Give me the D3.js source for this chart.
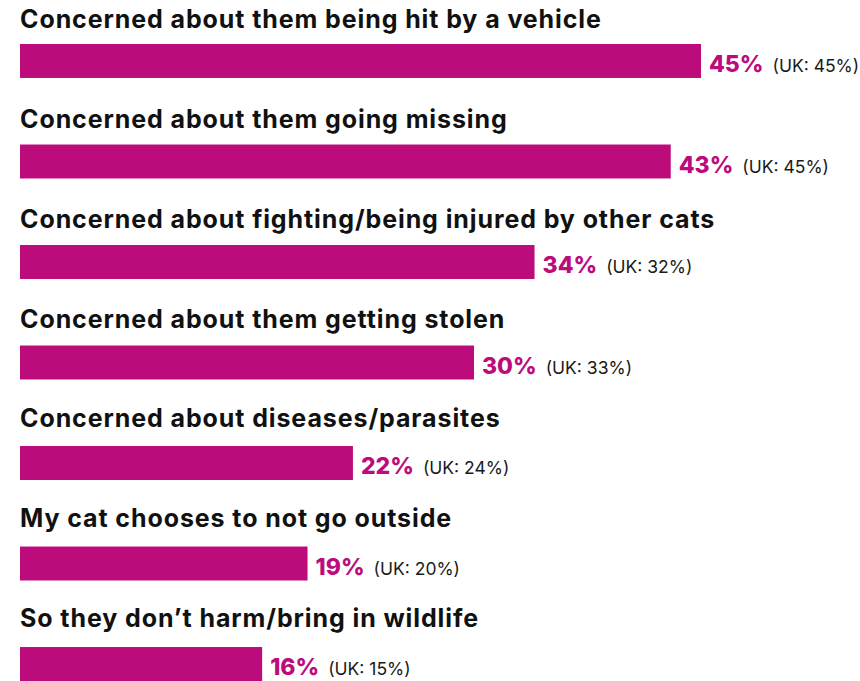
<!DOCTYPE html>
<html>
<head>
<meta charset="utf-8">
<script src="https://cdn.jsdelivr.net/npm/d3@7"></script>
<style>
  html, body { margin: 0; padding: 0; background: #fff; }
  svg { display: block; }
</style>
</head>
<body>
<svg id="chart" width="860" height="681"></svg>
<script>
// Reasons for keeping cats indoors, local share vs UK share (%)
const reasons = [
  "Concerned about them being hit by a vehicle",
  "Concerned about them going missing",
  "Concerned about fighting/being injured by other cats",
  "Concerned about them getting stolen",
  "Concerned about diseases/parasites",
  "My cat chooses to not go outside",
  "So they don\u2019t harm/bring in wildlife"
];
const shares = [45, 43, 34, 30, 22, 19, 16];
const ukShares = [45, 45, 32, 33, 24, 20, 15];

const left = 20;
const magenta = "#bc0c7c";
const fontFamily = "Inter, 'Liberation Sans', Arial, sans-serif";

const svg = d3.select("#chart");

const x = d3.scaleLinear().domain([0, 45]).range([left, 701]);
const yBar = d3.scaleBand().domain(d3.range(reasons.length)).range([44, 681]).paddingInner(0.662).paddingOuter(0);
const yLabel = d3.scalePoint().domain(d3.range(reasons.length)).range([28, 627]);

const rows = svg.selectAll("g.row")
  .data(reasons.map((r, i) => ({ reason: r, value: shares[i], uk: ukShares[i], i })))
  .join("g")
  .attr("class", "row");

// category heading above each bar
rows.append("text")
  .attr("x", left)
  .attr("y", d => yLabel(d.i))
  .attr("font-family", fontFamily)
  .attr("font-weight", 700)
  .attr("font-size", 25)
  .attr("letter-spacing", 0.9)
  .attr("fill", "#111")
  .text(d => d.reason);

rows.append("rect")
  .attr("x", x(0))
  .attr("y", d => yBar(d.i))
  .attr("width", d => x(d.value) - x(0))
  .attr("height", yBar.bandwidth())
  .attr("fill", magenta);

// value label, followed by the UK comparison
rows.each(function(d) {
  const g = d3.select(this);
  const vt = g.append("text")
    .attr("x", x(d.value) + 8)
    .attr("y", yBar(d.i) + 28)
    .attr("font-family", fontFamily)
    .attr("font-weight", 800)
    .attr("font-size", 23)
    .attr("fill", magenta)
    .text(d.value + "%");
  const w = vt.node().getComputedTextLength();
  g.append("text")
    .attr("x", x(d.value) + 8 + w + 9)
    .attr("y", yBar(d.i) + 28)
    .attr("font-family", fontFamily)
    .attr("font-weight", 400)
    .attr("font-size", 17.5)
    .attr("fill", "#1a1a1a")
    .text("(UK: " + d.uk + "%)");
});
</script>
</body>
</html>
